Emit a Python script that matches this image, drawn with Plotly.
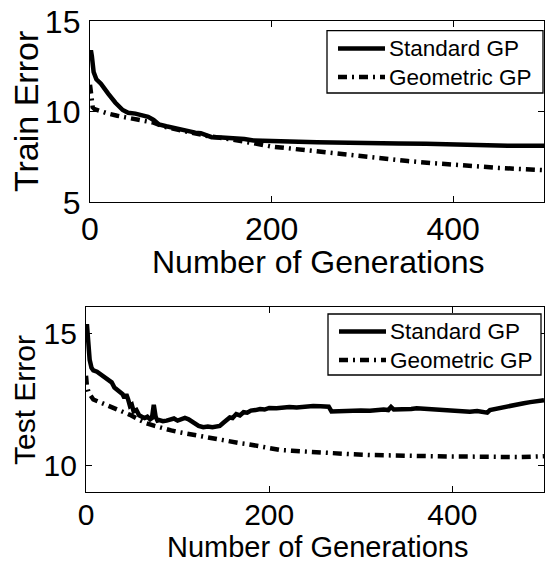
import plotly.graph_objects as go

W, H = 546, 562
FONT = "Liberation Sans, Arial, Helvetica, sans-serif"

# ---------------- data ----------------
series_names = ["Standard GP", "Geometric GP"]

train_gen_std = [0, 1, 2, 4, 7, 12, 20, 28, 36, 42, 50, 58, 64, 70, 76, 84, 92, 100, 108, 116,
                 122, 128, 134, 145, 160, 170, 180, 195, 220, 250, 280, 310, 340, 370, 385, 395,
                 400, 430, 460, 500]
train_err_std = [13.0, 13.4, 13.1, 12.2, 11.8, 11.55, 11.0, 10.5, 10.1, 9.95, 9.9, 9.82, 9.72,
                 9.55, 9.3, 9.2, 9.1, 9.0, 8.92, 8.85, 8.82, 8.68, 8.6, 8.58, 8.55, 8.5, 8.42,
                 8.38, 8.36, 8.32, 8.28, 8.26, 8.25, 8.24, 8.22, 8.18, 8.14, 8.12, 8.12, 8.12]

train_gen_geo = [0, 1, 2, 3, 5, 10, 20, 30, 40, 50, 60, 70, 80, 90, 100, 110, 120, 130, 150,
                 170, 185, 200, 225, 250, 275, 300, 325, 350, 375, 400, 425, 450, 475, 500]
train_err_geo = [11.5, 11.2, 10.6, 10.25, 10.15, 10.05, 9.9, 9.78, 9.68, 9.6, 9.5, 9.4, 9.2,
                 9.1, 9.0, 8.9, 8.8, 8.65, 8.52, 8.38, 8.22, 8.08, 7.94, 7.8, 7.65, 7.52, 7.4,
                 7.28, 7.17, 7.06, 6.98, 6.9, 6.84, 6.78]

test_gen_std = [0, 1, 2, 4, 6, 8, 12, 16, 20, 24, 28, 31, 34, 37, 40, 42, 44, 46, 48, 50, 52,
                55, 58, 61, 64, 67, 70, 72, 74, 76, 78, 80, 84, 88, 92, 96, 100, 104, 108, 112,
                116, 119, 123, 128, 133, 138, 142, 146, 150, 154, 157, 160, 164, 168, 172, 176,
                180, 185, 190, 195, 200, 208, 215, 222, 230, 240, 248, 256, 262, 265, 268, 275,
                285, 292, 300, 310, 318, 325, 330, 333, 336, 345, 355, 361, 370, 376, 384, 390,
                397, 405, 412, 419, 427, 434, 438, 441, 446, 452, 456, 462, 470, 478, 485, 492,
                500]
test_err_std = [15.1, 15.35, 14.9, 14.0, 13.7, 13.6, 13.55, 13.45, 13.4, 13.3, 13.15, 12.95,
                12.85, 12.8, 12.7, 12.55, 12.7, 12.5, 12.25, 12.3, 12.05, 12.1, 11.9, 11.85,
                11.8, 11.85, 11.75, 11.8, 12.3, 11.85, 11.7, 11.72, 11.68, 11.7, 11.72, 11.78,
                11.7, 11.76, 11.8, 11.75, 11.65, 11.55, 11.5, 11.45, 11.48, 11.45, 11.47, 11.5,
                11.62, 11.75, 11.82, 11.8, 11.95, 11.9, 12.02, 12.0, 12.08, 12.1, 12.14, 12.12,
                12.18, 12.17, 12.2, 12.22, 12.2, 12.24, 12.25, 12.24, 12.25, 12.23, 12.05, 12.06,
                12.08, 12.06, 12.08, 12.07, 12.1, 12.12, 12.1, 12.22, 12.12, 12.12, 12.14, 12.17,
                12.15, 12.15, 12.12, 12.08, 12.1, 12.06, 12.05, 12.04, 12.06, 12.02, 12.0, 12.1,
                12.14, 12.18, 12.22, 12.25, 12.3, 12.36, 12.4, 12.44, 12.47]

test_gen_geo = [0, 1, 3, 8, 15, 22, 30, 40, 48, 57, 66, 75, 84, 93, 102, 111, 120, 130, 139,
                148, 157, 166, 175, 184, 193, 203, 212, 225, 237, 250, 262, 274, 290, 310, 330,
                347, 365, 383, 400, 419, 437, 456, 474, 492, 500]
test_err_geo = [13.4, 13.0, 12.75, 12.5, 12.4, 12.3, 12.2, 12.05, 11.92, 11.75, 11.6, 11.5,
                11.4, 11.33, 11.26, 11.2, 11.14, 11.07, 11.01, 10.95, 10.9, 10.86, 10.82, 10.76,
                10.7, 10.65, 10.59, 10.56, 10.53, 10.5, 10.47, 10.46, 10.43, 10.40, 10.38, 10.36,
                10.35, 10.34, 10.34, 10.34, 10.33, 10.31, 10.32, 10.34, 10.35]

x_ticks = [0, 200, 400]
train_y_ticks = [5, 10, 15]
test_y_ticks = [10, 15]

# ---------------- layout helpers ----------------
def px_x(p):
    return p / W

def px_y(p):
    return 1 - p / H

GEO_DASH = "9px,5px,2px,5px"
LW = 4.5
styles = [dict(color="black", width=LW), dict(color="black", width=LW, dash=GEO_DASH)]

fig = go.Figure()
panels = [
    ("x", "y", [(train_gen_std, train_err_std), (train_gen_geo, train_err_geo)]),
    ("x2", "y2", [(test_gen_std, test_err_std), (test_gen_geo, test_err_geo)]),
]
for xa, ya, pairs in panels:
    for (gx, gy), name, st in zip(pairs, series_names, styles):
        fig.add_trace(go.Scatter(x=gx, y=gy, mode="lines", name=name, line=st,
                                 xaxis=xa, yaxis=ya, showlegend=False))

axis_common = dict(showline=True, linecolor="black", linewidth=1.3, mirror="ticks",
                   ticks="inside", ticklen=6, tickwidth=1, tickcolor="black",
                   showgrid=False, zeroline=False, automargin=False)

fig.update_layout(
    width=W, height=H,
    margin=dict(l=0, r=0, t=0, b=0),
    paper_bgcolor="white", plot_bgcolor="white",
    font=dict(family=FONT, color="black"),
    showlegend=False,
    xaxis=dict(domain=[px_x(90), px_x(544)], range=[0, 500], tickvals=x_ticks,
               tickfont=dict(size=32), ticklabelstandoff=-2, anchor="y", **axis_common),
    yaxis=dict(domain=[px_y(202.3), px_y(21.3)], range=[5, 15], tickvals=train_y_ticks,
               tickfont=dict(size=32), ticklabelstandoff=2, anchor="x", **axis_common),
    xaxis2=dict(domain=[px_x(86), px_x(544)], range=[0, 500], tickvals=x_ticks,
                tickfont=dict(size=30), ticklabelstandoff=-4, anchor="y2", **axis_common),
    yaxis2=dict(domain=[px_y(492), px_y(307)], range=[9, 16], tickvals=test_y_ticks,
                tickfont=dict(size=30), ticklabelstandoff=2, anchor="x2", **axis_common),
)

# ---------------- legends (boxed, drawn in paper space) ----------------
legend_boxes = [
    dict(x0=327, x1=543, y0=30.6, y1=93, rows=[48.6, 77.1]),
    dict(x0=328, x1=541, y0=314, y1=375, rows=[331.5, 360]),
]
for lb in legend_boxes:
    fig.add_shape(type="rect", xref="paper", yref="paper",
                  x0=px_x(lb["x0"]), x1=px_x(lb["x1"]), y0=px_y(lb["y1"]), y1=px_y(lb["y0"]),
                  line=dict(color="black", width=1.3), fillcolor="white", layer="above")
    for row_y, name, st in zip(lb["rows"], series_names, styles):
        fig.add_shape(type="line", xref="paper", yref="paper",
                      x0=px_x(lb["x0"] + 11), x1=px_x(lb["x0"] + 58),
                      y0=px_y(row_y), y1=px_y(row_y), line=st, layer="above")
        fig.add_annotation(text=name, xref="paper", yref="paper", showarrow=False,
                           x=px_x(lb["x0"] + 60), y=px_y(row_y), xanchor="left",
                           yanchor="middle", font=dict(size=22.5))

annotations = [
    dict(text="Train Error", x=px_x(26), y=px_y(112), textangle=-90, font=dict(size=34)),
    dict(text="Number of Generations", x=px_x(318), y=px_y(262), font=dict(size=32)),
    dict(text="Test Error", x=px_x(24), y=px_y(400), textangle=-90, font=dict(size=30)),
    dict(text="Number of Generations", x=px_x(317), y=px_y(547), font=dict(size=29)),
]
for a in annotations:
    fig.add_annotation(xref="paper", yref="paper", showarrow=False,
                       xanchor="center", yanchor="middle", **a)

fig.write_html("out.html", config={"displayModeBar": False},
               post_script="document.body.style.margin='0';document.body.style.padding='0';")
